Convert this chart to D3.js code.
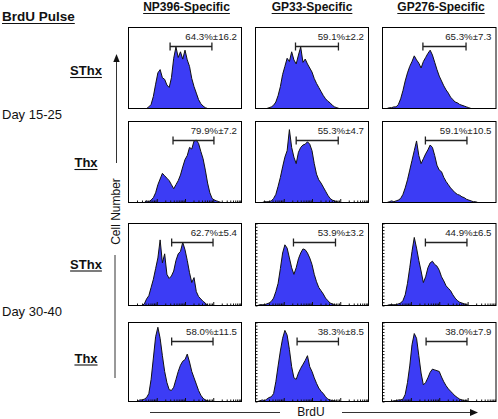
<!DOCTYPE html>
<html><head><meta charset="utf-8">
<script src="https://cdn.jsdelivr.net/npm/d3@7"></script>
<style>body{margin:0;background:#fff}svg{display:block}</style>
</head><body><svg id="c" width="498" height="419"></svg>
<script>
// ---------- DATA ----------
const columns = ["NP396-Specific", "GP33-Specific", "GP276-Specific"];
const rowLabels = ["SThx", "Thx", "SThx", "Thx"];
const dayLabels = ["Day 15-25", "Day 30-40"];
const titleLabel = "BrdU Pulse";
const yAxisLabel = "Cell Number";
const xAxisLabel = "BrdU";
const pctLabels = [
  ["64.3%±16.2", "59.1%±2.2", "65.3%±7.3"],
  ["79.9%±7.2", "55.3%±4.7", "59.1%±10.5"],
  ["62.7%±5.4", "53.9%±3.2", "44.9%±6.5"],
  ["58.0%±11.5", "38.3%±8.5", "38.0%±7.9"]
];
// gate limits in channel-bin units (0..50)
const gateLo = [[18.4, 17.7, 17.8], [19.7, 18.0, 18.9], [19.1, 16.8, 18.9], [19.1, 18.4, 19.2]];
const gateHi = [[36.9, 36.7, 36.8], [37.8, 36.6, 37.2], [37.4, 35.4, 37.2], [37.4, 36.7, 37.2]];
const nBins = 50;
// histogram counts (% of max scale) per channel bin
const npSThx15   = [0,0,0,0,0,0,0,0,0,2,5,15,30,44,48,38,36,29,26,38,62,76,63,70,61,72,60,52,37,27,19,11,6,3,1];
const gp33SThx15 = [0,0,0,0,0,0,1,2,4,8,16,27,42,52,62,58,70,60,55,66,76,57,61,55,50,45,37,31,26,21,16,12,9,7,4,2,1];
const gp276SThx15= [0,0,0,1,1,2,2,5,12,22,34,44,52,58,65,60,56,50,58,63,68,72,66,57,48,40,34,28,23,19,14,11,8,7,5,4,3,2,1];
const npThx15    = [0,0,0,0,0,0,0,0,2,1,3,6,12,22,29,36,33,30,27,22,17,22,27,34,44,53,58,68,66,76,77,73,63,54,40,24,12,5,3,2,1];
const gp33Thx15  = [0,0,0,0,1,1,1,2,5,10,20,31,44,56,64,90,68,56,48,62,68,71,72,75,72,64,48,35,28,24,19,14,9,5,3,2,1];
const gp276Thx15 = [0,0,0,1,2,1,2,3,5,10,18,28,40,52,64,76,58,48,54,60,65,71,68,58,46,40,38,31,26,22,18,15,12,10,9,7,6,4,3,2,1,1];
const npSThx30   = [0,0,0,0,0,0,0,2,8,12,22,32,45,58,80,52,63,38,33,36,42,55,63,66,77,68,55,40,28,34,17,11,8,5,3];
const gp33SThx30 = [0,0,1,1,1,2,3,5,9,17,27,45,64,74,70,58,46,38,46,57,64,69,68,64,58,50,38,29,22,18,14,9,6,3,2,1];
const gp276SThx30= [0,0,0,1,1,1,1,2,3,6,13,27,46,66,83,70,55,42,28,35,46,52,54,50,48,43,35,30,24,21,18,13,9,6,4,3,2,1];
const npThx30    = [0,0,0,0,0,2,2,3,5,10,28,55,82,94,80,58,38,24,15,14,18,28,38,46,51,53,60,50,38,30,22,14,8,4,2,1];
const gp33Thx30  = [0,0,1,2,1,3,5,6,10,25,45,64,80,90,84,66,44,30,28,36,42,47,52,58,44,38,30,23,17,13,10,6,3,2,1,1];
const gp276Thx30 = [0,0,0,0,0,1,1,2,2,3,9,24,45,72,86,80,58,36,21,24,30,37,41,40,39,38,31,25,20,16,13,10,7,5,3,2,1,1];
const histograms = [
  [npSThx15, gp33SThx15, gp276SThx15],
  [npThx15, gp33Thx15, gp276Thx15],
  [npSThx30, gp33SThx30, gp276SThx30],
  [npThx30, gp33Thx30, gp276Thx30]
];

// ---------- LAYOUT / STYLE ----------
const FONT = "'Liberation Sans', Arial, Helvetica, sans-serif";
const FILL = "#3c3cf5";
const colX = [128.5, 255.5, 382.5];
const colW = [113, 113, 113.5];
const rowY = [27.5, 121.5, 223.5, 322.5];
const rowH = [81, 81, 82, 79];
const headerX = [186.5, 312, 441];
const rowLabelY = [75, 167, 268.5, 362.5];
const dayLabelY = [119, 316];
const showXTicks = [[0,0,0],[1,1,0],[1,1,1],[1,1,1]];
const showYTicks = [[0,0,0],[0,0,0],[0,1,1],[0,1,1]];

const svg = d3.select("#c");
const defs = svg.append("defs");

function underlinedText(x, y, txt, size, weight, anchor) {
  const t = svg.append("text").attr("x", x).attr("y", y).attr("text-anchor", anchor)
    .attr("font-family", FONT).attr("font-size", size).attr("font-weight", weight)
    .attr("fill", "#111").text(txt);
  const w = t.node().getComputedTextLength();
  const x0 = anchor === "middle" ? x - w / 2 : (anchor === "end" ? x - w : x);
  svg.append("line").attr("x1", x0).attr("x2", x0 + w)
    .attr("y1", y + 2.5).attr("y2", y + 2.5).attr("stroke", "#111").attr("stroke-width", 1.1);
  return t;
}

// title and headers
underlinedText(2, 21, titleLabel, 13.5, "bold", "start");
columns.forEach((c, j) => underlinedText(headerX[j], 11, c, 12, "bold", "middle"));
rowLabels.forEach((r, i) => underlinedText(86, rowLabelY[i], r, 13, "bold", "middle"));
dayLabels.forEach((d, i) => svg.append("text").attr("x", 2).attr("y", dayLabelY[i])
  .attr("font-family", FONT).attr("font-size", 13).attr("fill", "#111").text(d));

// panels
histograms.forEach((row, i) => {
  row.forEach((arr, j) => {
    const left = colX[j], right = colX[j] + colW[j];
    const top = rowY[i], bottom = rowY[i] + rowH[i];
    const x = d3.scaleLinear().domain([0, nBins]).range([left, right]);
    const y = d3.scaleLinear().domain([0, 100]).range([bottom, top]);
    const data = d3.range(nBins + 1).map(k => arr[k] || 0);
    const id = "clip" + i + "_" + j;
    defs.append("clipPath").attr("id", id).append("rect")
      .attr("x", left).attr("y", top).attr("width", right - left).attr("height", bottom - top);
    const g = svg.append("g");
    const pg = g.append("g").attr("clip-path", "url(#" + id + ")");
    pg.append("path").datum(data)
      .attr("d", d3.area().x((d, k) => x(k)).y0(bottom).y1(d => y(d)))
      .attr("fill", FILL);
    pg.append("path").datum(data)
      .attr("d", d3.line().x((d, k) => x(k)).y(d => y(d)))
      .attr("fill", "none").attr("stroke", "#111").attr("stroke-width", 1);
    // bottom log ticks
    if (showXTicks[i][j]) {
      const lx = d3.scaleLog().domain([1, 1e4]).range([left, right]);
      const minor = [];
      for (let e = 0; e < 4; e++) for (let m = 2; m < 10; m++) minor.push(m * Math.pow(10, e));
      const ax = g.append("g").attr("transform", `translate(0,${bottom})`)
        .call(d3.axisBottom(lx).tickValues(minor).tickSize(-2).tickFormat(""));
      ax.select(".domain").remove();
      ax.selectAll("line").attr("stroke", "#111");
      const ax2 = g.append("g").attr("transform", `translate(0,${bottom})`)
        .call(d3.axisBottom(lx).tickValues([10, 100, 1000]).tickSize(-3.5).tickFormat(""));
      ax2.select(".domain").remove();
      ax2.selectAll("line").attr("stroke", "#111");
    }
    if (showYTicks[i][j]) {
      const ay = g.append("g").attr("transform", `translate(${left},0)`)
        .call(d3.axisRight(y).tickValues(d3.range(0, 101, 4)).tickSize(2).tickFormat(""));
      ay.select(".domain").remove();
      ay.selectAll("line").attr("stroke", "#111");
    }
    // border
    g.append("rect").attr("x", left).attr("y", top).attr("width", right - left).attr("height", bottom - top)
      .attr("fill", "none").attr("stroke", "#000").attr("stroke-width", 1);
    // gate
    const gy = top + 19, g0 = x(gateLo[i][j]), g1 = x(gateHi[i][j]);
    g.append("path").attr("d", `M${g0},${gy}H${g1}M${g0},${gy - 4}V${gy + 4}M${g1},${gy - 4}V${gy + 4}`)
      .attr("stroke", "#222").attr("stroke-width", 1.3).attr("fill", "none");
    // pct label
    g.append("text").attr("x", right - 4.5).attr("y", top + 12).attr("text-anchor", "end")
      .attr("font-family", FONT).attr("font-size", 9.7).attr("fill", "#222").text(pctLabels[i][j]);
  });
});

// y axis arrow with label
svg.append("path").attr("d", "M116.5,61V163M115,255V378").attr("stroke", "#333").attr("stroke-width", 1).attr("fill", "none");
svg.append("path").attr("d", "M116.5,54L113.3,62L119.7,62Z").attr("fill", "#111");
svg.append("text").attr("transform", "translate(119.5,211.5) rotate(-90)").attr("text-anchor", "middle")
  .attr("font-family", FONT).attr("font-size", 12).attr("fill", "#111").text(yAxisLabel);

// x axis arrow with label
svg.append("path").attr("d", "M150,412.5H280M342,412.5H471").attr("stroke", "#333").attr("stroke-width", 1).attr("fill", "none");
svg.append("path").attr("d", "M478,412.5L470,409L470,416Z").attr("fill", "#111");
svg.append("text").attr("x", 311).attr("y", 416).attr("text-anchor", "middle")
  .attr("font-family", FONT).attr("font-size", 12).attr("fill", "#111").text(xAxisLabel);
</script>
</body></html>
